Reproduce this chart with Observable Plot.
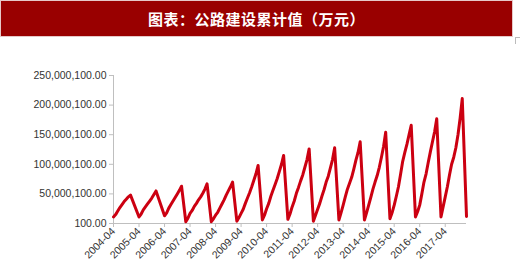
<!DOCTYPE html>
<html>
<head>
<meta charset="utf-8">
<script src="https://cdn.jsdelivr.net/npm/d3@7"></script>
<script src="https://cdn.jsdelivr.net/npm/@observablehq/plot@0.6"></script>
<style>
  html, body { margin: 0; padding: 0; background: #fff; }
  #wrap { position: relative; width: 520px; height: 271px; overflow: hidden; }
  #banner {
    position: absolute; left: 1px; top: 1px; width: 511px; height: 35px;
    background: #990000; box-shadow: 0 0 0 1px #e6c8c8;
    color: #fff; font-family: "Noto Sans CJK SC", sans-serif; font-weight: 700;
    font-size: 15px; line-height: 35px; text-align: center; letter-spacing: 0.5px;
  }
  #corner { position: absolute; left: 515px; top: 37px; width: 6px; height: 6px;
    border-left: 1px solid #bbb; border-top: 1px solid #bbb; }
  #chart { position: absolute; left: 0; top: 0; }
</style>
</head>
<body>
<div id="wrap">
  <div id="chart"></div>
  <div id="banner">图表：公路建设累计值（万元）</div>
  <div id="corner"></div>
</div>
<script>
// Cumulative highway construction value, 万元 (in millions ×1e6)
// 2004–2006 start in April; 2007–2017 start in February; 2018 has February only
const v2004 = [11, 15, 21, 27, 32, 37, 41, 45, 48];
const v2005 = [11, 16, 23, 28, 33, 38, 43, 49, 55];
const v2006 = [13, 18, 26, 32, 38, 44, 50, 56, 63];
const v2007 = [3, 9, 17, 22, 29, 34, 40, 45, 51, 58, 67];
const v2008 = [3, 8, 14, 19, 26, 33, 40, 48, 55, 62, 70];
const v2009 = [4, 10, 17, 24, 34, 43, 52, 62, 73, 84, 98];
const v2010 = [6, 14, 25, 34, 46, 56, 66, 76, 88, 100, 115];
const v2011 = [7, 16, 28, 38, 51, 61, 72, 82, 95, 108, 126];
const v2012 = [4, 14, 24, 34, 46, 57, 70, 80, 94, 108, 128];
const v2013 = [6, 18, 31, 45, 58, 68, 78, 92, 107, 120, 138];
const v2014 = [6, 18, 31, 44, 58, 70, 81, 95, 112, 130, 154];
const v2015 = [8, 18, 31, 46, 62, 83, 105, 120, 134, 150, 166];
const v2016 = [11, 20, 31, 50, 70, 84, 103, 121, 138, 155, 177];
const v2017 = [11, 28, 45, 62, 82, 100, 112, 128, 150, 178, 211];
const v2018 = [12];

const years = [2004, 2005, 2006, 2007, 2008, 2009, 2010, 2011, 2012, 2013, 2014, 2015, 2016, 2017, 2018];
const startMonths = [4, 4, 4, 2, 2, 2, 2, 2, 2, 2, 2, 2, 2, 2, 2];
const yearValues = [v2004, v2005, v2006, v2007, v2008, v2009, v2010, v2011, v2012, v2013, v2014, v2015, v2016, v2017, v2018];

const tickLabels = ["2004-04","2005-04","2006-04","2007-04","2008-04","2009-04","2010-04",
  "2011-04","2012-04","2013-04","2014-04","2015-04","2016-04","2017-04"];
const yTicks = [100, 50000100, 100000100, 150000100, 200000100, 250000100];

// month index relative to 2004-04
const idx = (y, m) => (y - 2004) * 12 + (m - 4);
const data = [];
years.forEach((y, i) => {
  yearValues[i].forEach((v, j) => {
    data.push({ t: idx(y, startMonths[i] + j), value: v * 1e6 });
  });
});
const tickPos = tickLabels.map(s => idx(+s.slice(0, 4), +s.slice(5)));

const font = '"Liberation Sans", Arial, sans-serif';
const chart = Plot.plot({
  width: 520,
  height: 271,
  marginLeft: 113,
  marginRight: 54,
  marginTop: 75,
  marginBottom: 48,
  style: { fontFamily: font, fontSize: "10.5px", color: "#333", background: "transparent" },
  x: { type: "linear", domain: [0, idx(2018, 2)] },
  y: { domain: [100, 250000100] },
  marks: [
    Plot.axisY({ ticks: yTicks, tickFormat: d3.format(",.2f"), tickSize: 4, tickPadding: 3,
      stroke: "#bfbfbf", fill: "#333", label: null, fontSize: 10.5 }),
    Plot.axisX({ ticks: tickPos, tickFormat: (d) => tickLabels[tickPos.indexOf(d)], tickSize: 4,
      tickRotate: -45, tickPadding: 2, stroke: "#bfbfbf", fill: "#333", label: null, fontSize: 10.5 }),
    Plot.ruleX([0], { stroke: "#bfbfbf" }),
    Plot.ruleY([100], { stroke: "#bfbfbf" }),
    Plot.line(data, { x: "t", y: "value", stroke: "#cc0011", strokeWidth: 3, strokeLinejoin: "round" })
  ]
});
document.getElementById("chart").appendChild(chart);
</script>
</body>
</html>
